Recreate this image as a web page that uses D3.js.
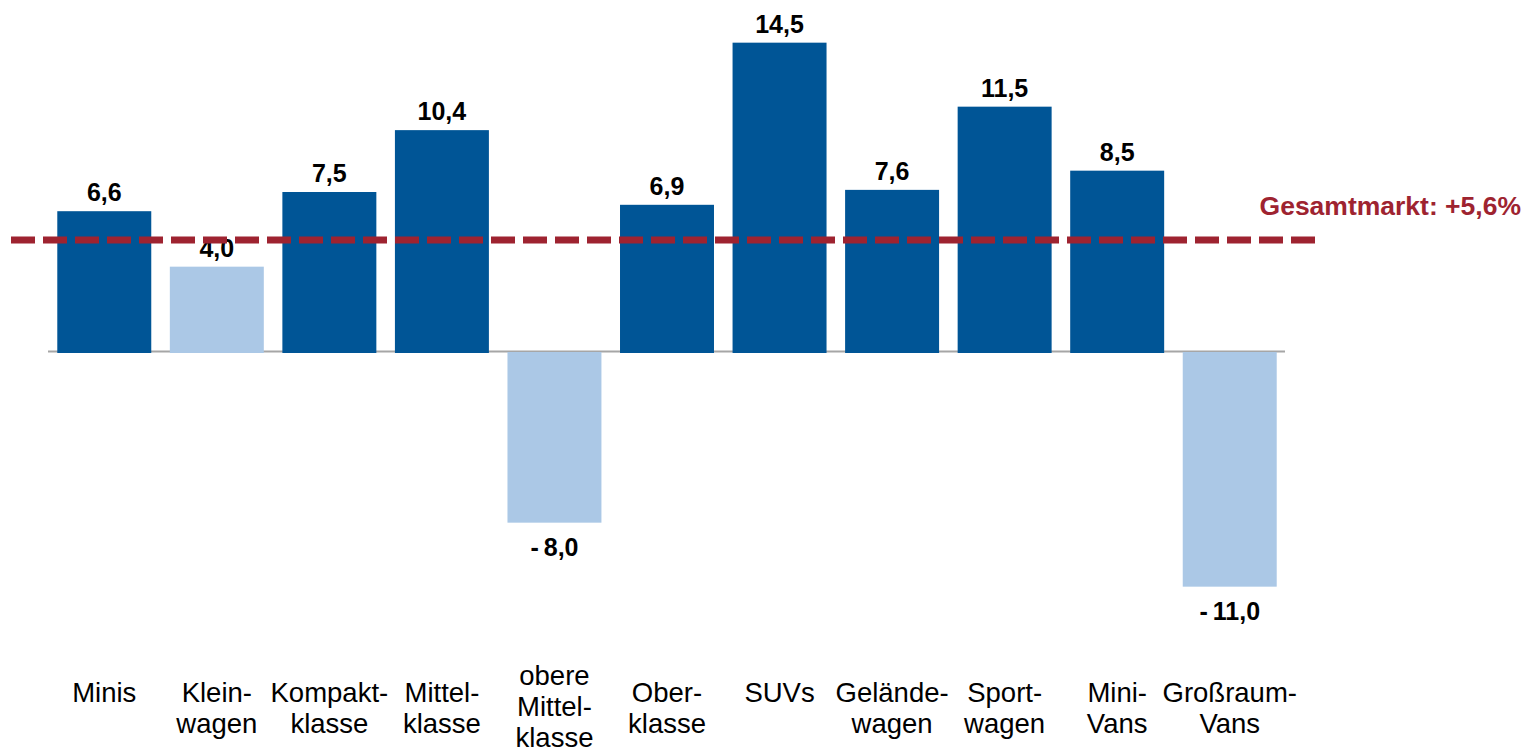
<!DOCTYPE html>
<html>
<head>
<meta charset="utf-8">
<script src="https://cdn.jsdelivr.net/npm/d3@7/dist/d3.min.js"></script>
<style>
  body { margin: 0; background: #fff; }
  text { font-family: "Liberation Sans", Arial, sans-serif; }
</style>
</head>
<body>
<div id="chart"></div>
<script>
// Segmente und Veränderung in %
var categories = ["Minis", "Klein-\nwagen", "Kompakt-\nklasse", "Mittel-\nklasse", "obere\nMittel-\nklasse",
  "Ober-\nklasse", "SUVs", "Gelände-\nwagen", "Sport-\nwagen", "Mini-\nVans", "Großraum-\nVans"];
var values = [6.6, 4.0, 7.5, 10.4, -8.0, 6.9, 14.5, 7.6, 11.5, 8.5, -11.0];
var marketValue = 5.6;
var marketLabel = "Gesamtmarkt: +5,6%";
var marketLinePos = 5.25; // where the dashed line sits in the picture

var width = 1527, height = 752;

var svg = d3.select('#chart')
  .append('svg')
  .attr('width', width)
  .attr('height', height);

var x = d3.scaleBand()
  .domain(categories)
  .range([48, 1286])
  .paddingInner(0.165)
  .paddingOuter(0.0825);

var y = d3.scaleLinear()
  .domain([-12, 15])
  .range([608, 32]);

var fmt = function(v){
  var s = Math.abs(v).toFixed(1).replace('.', ',');
  return v < 0 ? '-\u2009' + s : s;
};

// baseline
svg.append('line')
  .attr('x1', 48)
  .attr('x2', 1285)
  .attr('y1', y(0) - 0.5)
  .attr('y2', y(0) - 0.5)
  .style('stroke', '#a6a6a6')
  .style('stroke-width', 2);

// bars
svg.selectAll('.bar')
  .data(values)
  .enter()
  .append('rect')
  .attr('class', 'bar')
  .attr('x', function(d, i){ return x(categories[i]); })
  .attr('width', x.bandwidth())
  .attr('y', function(d){ return d >= 0 ? y(d) : y(0); })
  .attr('height', function(d){ return Math.abs(y(d) - y(0)) + (d >= 0 ? 1 : 0); })
  .style('fill', function(d){ return d > marketValue ? '#005596' : '#abc8e6'; });

// value labels
svg.selectAll('.val')
  .data(values)
  .enter()
  .append('text')
  .attr('class', 'val')
  .attr('x', function(d, i){ return x(categories[i]) + x.bandwidth() / 2; })
  .attr('y', function(d){ return d >= 0 ? y(d) - 10 : y(d) + 33; })
  .attr('text-anchor', 'middle')
  .style('font-size', '25px')
  .style('font-weight', 'bold')
  .style('fill', '#000')
  .text(fmt);

// category labels
var cat = svg.selectAll('.cat')
  .data(categories)
  .enter()
  .append('text')
  .attr('class', 'cat')
  .attr('text-anchor', 'middle')
  .style('font-size', '27.5px')
  .style('fill', '#000')
  .attr('transform', function(d){
    var n = d.split('\n').length;
    return 'translate(' + (x(d) + x.bandwidth() / 2) + ',' + (702 - (n > 2 ? 17 : 0)) + ')';
  });
cat.selectAll('tspan')
  .data(function(d){ return d.split('\n'); })
  .enter()
  .append('tspan')
  .attr('x', 0)
  .attr('dy', function(d, i){ return i === 0 ? 0 : 31; })
  .text(function(d){ return d; });

// market line
svg.append('line')
  .attr('x1', 11)
  .attr('x2', 1315)
  .attr('y1', y(marketLinePos))
  .attr('y2', y(marketLinePos))
  .style('stroke', '#9e2330')
  .style('stroke-width', 7)
  .style('stroke-dasharray', '24,8');

svg.append('text')
  .attr('x', 1521)
  .attr('y', 215)
  .attr('text-anchor', 'end')
  .style('font-size', '26.5px')
  .style('font-weight', 'bold')
  .style('fill', '#9e2330')
  .text(marketLabel);
</script>
</body>
</html>
